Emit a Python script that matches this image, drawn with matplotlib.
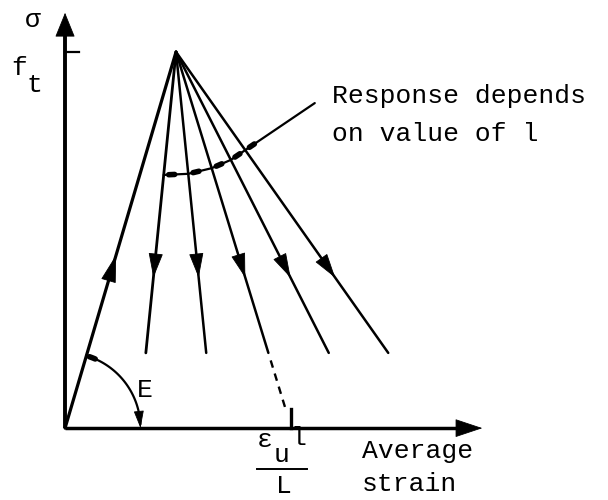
import numpy as np
import matplotlib as mpl

mpl.use("Agg")
import matplotlib.pyplot as plt

# normalised schematic: strain / peak strain, stress / tensile strength
eps_peak = 1.0
f_t = 1.0
# strain at zero stress for each softening branch (eps_u * l / L for different l)
eps_zero = [0.66, 1.34, 2.04, 2.72, 3.39]
dashed_branch = 2
sig_stop = 0.20          # softening branches are drawn down to this stress
sig_arrow = 0.40         # arrow tips on the softening branches
sig_load_arrow = 0.46    # arrow tip on the loading branch
# stress where the "response" leader crosses each softening branch
sig_leader = [0.673, 0.676, 0.691, 0.713, 0.739]
leader_end = (2.25, 0.864)
eps_axis_end = 3.76
sig_axis_end = 1.104
r_E = 0.68               # radius of the modulus arc, in strain units

FONT = "Liberation Mono"
FS = 19

fig = plt.figure(figsize=(6.08, 5.0), dpi=100)
ax = fig.add_axes([0, 0, 1, 1])
ax.set_xlim(-0.586, 4.892)
ax.set_ylim(-0.191, 1.138)
ax.axis("off")


def branch_eps(e0, sig):
    # strain on a softening branch running from the peak to (e0, 0)
    return eps_peak + (f_t - np.asarray(sig)) / f_t * (e0 - eps_peak)


def head(tip, tail, length, width, lw=0.6):
    ax.annotate("", xy=tip, xytext=tail,
                arrowprops=dict(arrowstyle=f"-|>,head_length={length},head_width={width}",
                                mutation_scale=10, lw=lw, color="black",
                                shrinkA=0, shrinkB=0))


# axes with arrowheads
ax.plot([0, 0], [0, sig_axis_end - 0.05], color="black", lw=2.8, solid_capstyle="butt")
ax.plot([0, eps_axis_end - 0.15], [0, 0], color="black", lw=2.5, solid_capstyle="butt")
head((0, sig_axis_end), (0, sig_axis_end - 0.1), 1.6, 0.65)
head((eps_axis_end, 0), (eps_axis_end - 0.3, 0), 1.8, 0.6)

# f_t tick
ax.plot([0, 0.13], [f_t, f_t], color="black", lw=1.6)

# loading branch
ax.plot([0, eps_peak], [0, f_t], color="black", lw=2.3, solid_capstyle="round")
head((eps_peak * sig_load_arrow, sig_load_arrow),
     (eps_peak * (sig_load_arrow - 0.1), sig_load_arrow - 0.1), 1.8, 0.5)

# softening branches
for i, e0 in enumerate(eps_zero):
    ax.plot([eps_peak, branch_eps(e0, sig_stop)], [f_t, sig_stop],
            color="black", lw=2.0 if i == 0 else 1.8, solid_capstyle="round")
    head((branch_eps(e0, sig_arrow), sig_arrow),
         (branch_eps(e0, sig_arrow + 0.1), sig_arrow + 0.1), 1.6, 0.47)

# extension of one branch down to the strain axis
e_u = eps_zero[dashed_branch]
ax.plot(branch_eps(e_u, [sig_stop - 0.02, 0.05]), [sig_stop - 0.02, 0.05],
        color="black", lw=1.7, dashes=(3.2, 2.6))
ax.plot([e_u, e_u], [0, 0.05], color="black", lw=2.4)

# leader for the "response depends on l" note, with a blob past each crossing
lx = [branch_eps(e0, s) for e0, s in zip(eps_zero, sig_leader)] + [leader_end[0]]
ly = list(sig_leader) + [leader_end[1]]
ax.plot(lx, ly, color="black", lw=1.6, solid_capstyle="round")
pts = ax.transData.transform(np.column_stack([lx, ly]))
inv = ax.transData.inverted()
for k in range(len(sig_leader)):
    d = pts[k + 1] - pts[k]
    u = d / np.hypot(*d)
    a = inv.transform(pts[k] + u * 5)
    b = inv.transform(pts[k] + u * 11)
    ax.plot([a[0], b[0]], [a[1], b[1]], color="black", lw=4.0, solid_capstyle="round")

# modulus arc from the loading branch down to the strain axis
sx, sy = ax.transData.transform((1, 1)) - ax.transData.transform((0, 0))
r_sig = r_E * sx / sy
theta0 = np.arctan2(f_t * sy, eps_peak * sx)
theta = np.linspace(theta0, 0.06, 60)
ax.plot(r_E * np.cos(theta), r_sig * np.sin(theta), color="black", lw=1.6)
ax.plot(r_E * np.cos(theta[2:7]), r_sig * np.sin(theta[2:7]), color="black", lw=4.0,
        solid_capstyle="round")
head((r_E, 0.0), (r_E * np.cos(0.2), r_sig * np.sin(0.2)), 1.1, 0.32)

# labels
txt = dict(family=FONT, fontsize=FS, color="black")
ax.text(-0.288, 1.085, "σ", ha="center", va="center", **txt)
ax.text(-0.414, 0.939, "f", ha="center", va="baseline", **txt)
ax.text(-0.279, 0.894, "t", ha="center", va="baseline", **txt)
ax.text(0.72, 0.082, "E", ha="center", va="baseline", **txt)
ax.text(2.405, 0.864, "Response depends", ha="left", va="baseline", **txt)
ax.text(2.405, 0.763, "on value of l", ha="left", va="baseline", **txt)
ax.text(1.80, -0.051, "ε", ha="center", va="baseline", **txt)
ax.text(1.955, -0.090, "u", ha="center", va="baseline", **txt)
ax.text(2.10, -0.045, "l", ha="center", va="baseline", **txt)
ax.plot([1.73, 2.18], [-0.109, -0.109], color="black", lw=1.4)
ax.text(1.973, -0.173, "L", ha="center", va="baseline", **txt)
ax.text(2.676, -0.080, "Average", ha="left", va="baseline", **txt)
ax.text(2.676, -0.168, "strain", ha="left", va="baseline", **txt)

fig.savefig("out.png", dpi=100, facecolor="white")
